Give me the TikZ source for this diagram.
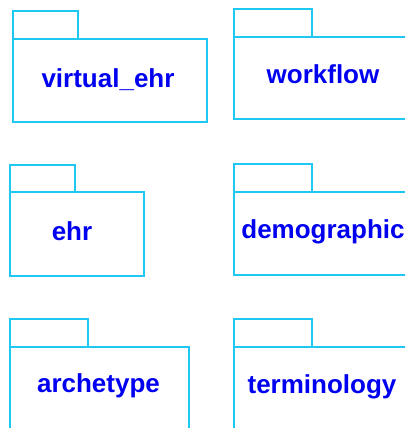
\documentclass[tikz,border=0pt]{standalone}
\usepackage{fontspec}
\setmainfont{Liberation Sans}
\definecolor{pkgline}{RGB}{30,200,240}
\definecolor{pkgtext}{RGB}{0,0,240}
\tikzset{
  pkg/.style={draw=pkgline,line width=1.8bp},
  pkglabel/.style={anchor=base,inner sep=0pt,text=pkgtext,font=\fontsize{26bp}{30bp}\selectfont\bfseries}
}
\begin{document}
\begin{tikzpicture}
        [x=1bp,y=-1bp]
        \useasboundingbox (0,0) rectangle (405,428);
        \clip (0,0) rectangle (405,428);

        % left column
        \draw[pkg] (13,11) rectangle (78,39);
        \draw[pkg] (13,39) rectangle (207,122);
        \node[pkglabel] (virtual) at (108,87) {virtual\_ehr};

        \draw[pkg] (10,165) rectangle (75,192);
        \draw[pkg] (10,192) rectangle (144,276);
        \node[pkglabel] (ehr) at (72,240) {ehr};

        \draw[pkg] (10,319) rectangle (88,347);
        \draw[pkg] (10,347) rectangle (189,440);
        \node[pkglabel] (archetype) at (98.5,392) {archetype};

        % right column, cut at the border
        \draw[pkg] (234,9) rectangle (312,37);
        \draw[pkg] (234,37) rectangle (420,119);
        \node[pkglabel] (workflow) at (323,83) {workflow};

        \draw[pkg] (234,164) rectangle (312,192);
        \draw[pkg] (234,192) rectangle (420,275);
        \node[pkglabel] (demographic) at (323,238) {demographic};

        \draw[pkg] (234,319) rectangle (312,347);
        \draw[pkg] (234,347) rectangle (420,440);
        \node[pkglabel] (terminology) at (322,393) {terminology};
      \end{tikzpicture}
\end{document}
